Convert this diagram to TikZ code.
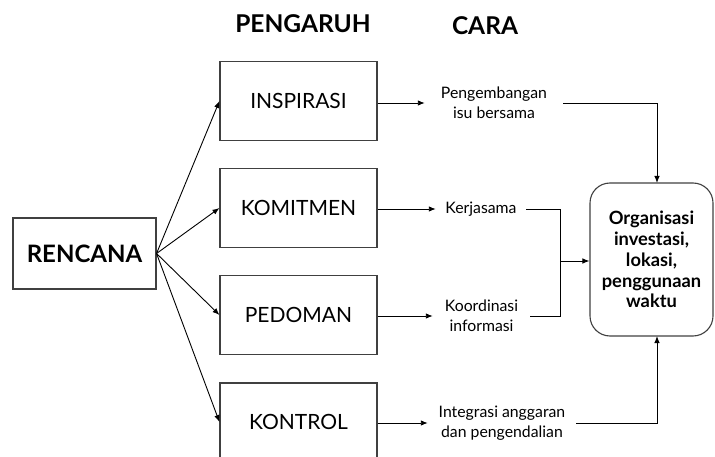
\documentclass[tikz,border=0pt]{standalone}
\usepackage{fontspec}
\setmainfont{Lato}
\usetikzlibrary{arrows.meta,positioning,calc}
\begin{document}
\begin{tikzpicture}[x=1pt,y=-1pt,
  box/.style={draw=black!75,line width=1.1pt,rectangle,minimum width=157pt,minimum height=79pt,inner sep=0pt,font=\fontsize{21}{24}\selectfont},
  lbl/.style={inner sep=0pt,align=center,font=\fontsize{15.8}{20}\selectfont,minimum height=20pt},
  arr/.style={-{Latex[length=7pt,width=5.5pt]},line width=0.9pt},
  ln/.style={line width=0.9pt},
  hdr/.style={font=\bfseries\fontsize{24.5}{28}\selectfont,inner sep=0pt}]
\useasboundingbox (0,0) rectangle (715,457);
\begin{scope}
\clip (0,0) rectangle (715,457);
\node[hdr] (h1) at (303,24) {PENGARUH};
\node[hdr] (h2) at (485,26) {CARA};
\node[box,minimum width=143pt,minimum height=71pt,font=\bfseries\fontsize{24}{28}\selectfont] (ren) at (84.5,253.5) {RENCANA};
\node[box] (b1) at (298.5,101) {INSPIRASI};
\node[box] (b2) at (298.5,208) {KOMITMEN};
\node[box] (b3) at (298.5,315) {PEDOMAN};
\node[box,minimum height=78pt] (b4) at (298.5,422) {KONTROL};
\node[draw=black!75,line width=1.1pt,rounded corners=20pt,minimum width=123pt,minimum height=153pt,inner sep=0pt,align=center,font=\bfseries\fontsize{18.3}{20.8}\selectfont] (org) at (651.5,259.5) {Organisasi\\investasi,\\lokasi,\\penggunaan\\waktu};
\node[lbl,minimum width=138pt] (t1) at (494,103) {Pengembangan\\isu bersama};
\node[lbl,minimum width=90pt] (t2) at (481,209) {Kerjasama};
\node[lbl,minimum width=97pt] (t3) at (481.5,316) {Koordinasi\\informasi};
\node[lbl,minimum width=148pt] (t4) at (502,423) {Integrasi anggaran\\dan pengendalian};
\coordinate (j) at (560,261);
\coordinate (ct) at (657,183);
\coordinate (cb) at (657,336);
\foreach \b in {b1,b2,b3,b4} \draw[arr] (ren.east) -- (\b.west);
\draw[arr] (b1.east |- t1.west) -- (t1.west);
\draw[arr] (b2.east |- t2.west) -- (t2.west);
\draw[arr] (b3.east |- t3.west) -- (t3.west);
\draw[arr] (b4.east |- t4.west) -- (t4.west);
\draw[arr] (t1.east) -| (ct);
\draw[arr] (t4.east) -| (cb);
\draw[ln] (t2.east) -| (j);
\draw[ln] (t3.east) -| (j);
\draw[arr] (j) -- (org.west |- j);
\end{scope}
\end{tikzpicture}
\end{document}
